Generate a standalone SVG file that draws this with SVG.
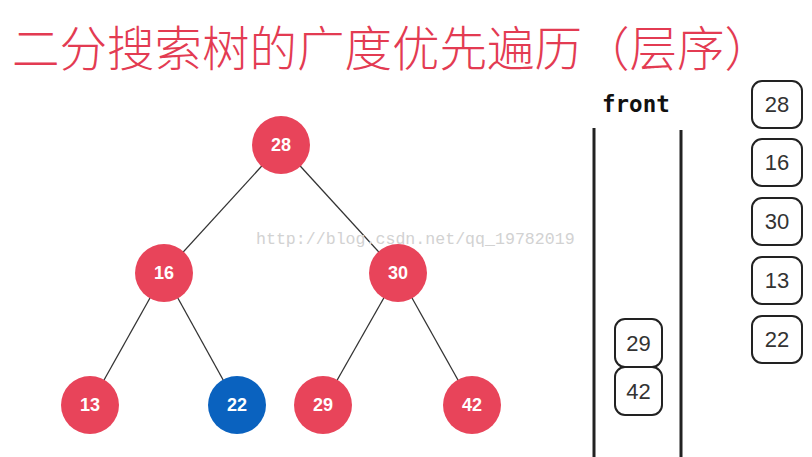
<svg xmlns="http://www.w3.org/2000/svg" width="812" height="457" viewBox="0 0 812 457">
<style>
.n circle{fill:#e8445a}
.n.b circle{fill:#0a62bf}
.n text{font-family:"Liberation Sans",Arial,sans-serif;font-weight:bold;font-size:18px;fill:#fff;text-anchor:middle}
.e line{stroke:#333;stroke-width:1.3}
.q rect{fill:#fff;stroke:#222;stroke-width:2}
.q text{font-family:"Liberation Sans",Arial,sans-serif;font-size:22px;fill:#333;text-anchor:middle}
.wall{stroke:#222;stroke-width:3}
</style>
<rect width="812" height="457" fill="#fff"/>
<text x="12" y="66" font-family="'Noto Sans CJK SC',sans-serif" font-weight="300" font-size="47.5" fill="#e33b52">二分搜索树的广度优先遍历（层序）</text>
<g class="e" id="edges">
<line x1="281" y1="145" x2="164" y2="273"/>
<line x1="281" y1="145" x2="398" y2="273"/>
<line x1="164" y1="273" x2="90" y2="405"/>
<line x1="164" y1="273" x2="237" y2="405"/>
<line x1="398" y1="273" x2="323" y2="405"/>
<line x1="398" y1="273" x2="472" y2="405"/>
</g>
<g class="n" id="n28"><circle cx="281" cy="145" r="29"/><text x="281" y="151">28</text></g>
<g class="n" id="n16"><circle cx="164" cy="273" r="29"/><text x="164" y="279">16</text></g>
<g class="n" id="n30"><circle cx="398" cy="273" r="29"/><text x="398" y="279">30</text></g>
<g class="n" id="n13"><circle cx="90" cy="405" r="29"/><text x="90" y="411">13</text></g>
<g class="n b" id="n22"><circle cx="237" cy="405" r="29"/><text x="237" y="411">22</text></g>
<g class="n" id="n29"><circle cx="323" cy="405" r="29"/><text x="323" y="411">29</text></g>
<g class="n" id="n42"><circle cx="472" cy="405" r="29"/><text x="472" y="411">42</text></g>
<text x="256" y="244" font-family="'Liberation Mono',monospace" font-size="16.6" fill="#d2d2d2">http://blog.csdn.net/qq_19782019</text>
<g id="queue">
<line class="wall" x1="594" y1="128" x2="594" y2="457"/>
<line class="wall" x1="681" y1="130" x2="681" y2="457"/>
<text x="602" y="112" font-family="'DejaVu Sans Mono',monospace" font-weight="bold" font-size="22.5" fill="#111">front</text>
</g>
<g class="q" id="q29"><rect x="615" y="319" width="47" height="48" rx="10"/><text x="638.5" y="351">29</text></g>
<g class="q" id="q42"><rect x="615" y="367" width="47" height="48" rx="10"/><text x="638.5" y="399">42</text></g>
<g class="q" id="o28"><rect x="752" y="81" width="50" height="47" rx="10"/><text x="777" y="112">28</text></g>
<g class="q" id="o16"><rect x="752" y="139" width="50" height="47" rx="10"/><text x="777" y="170">16</text></g>
<g class="q" id="o30"><rect x="752" y="198" width="50" height="47" rx="10"/><text x="777" y="229">30</text></g>
<g class="q" id="o13"><rect x="752" y="257" width="50" height="47" rx="10"/><text x="777" y="288">13</text></g>
<g class="q" id="o22"><rect x="752" y="316" width="50" height="47" rx="10"/><text x="777" y="347">22</text></g>
</svg>
